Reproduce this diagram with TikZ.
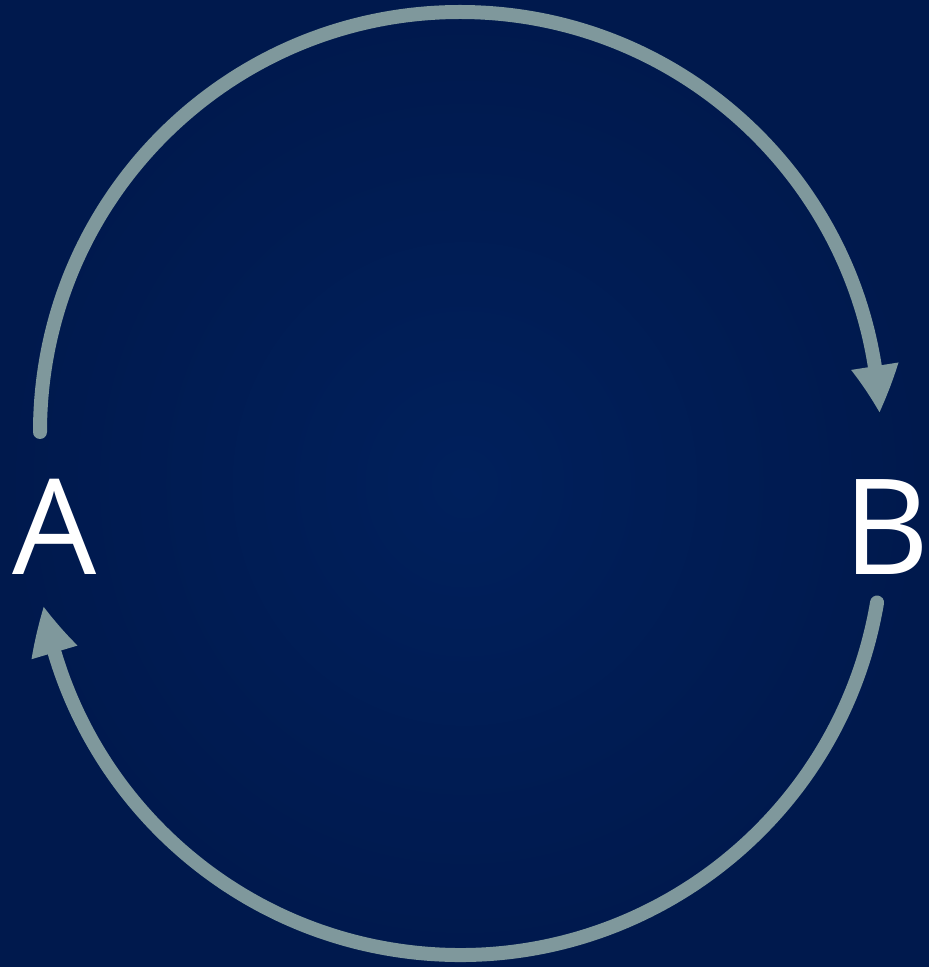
\documentclass[tikz,border=0pt]{standalone}
\usepackage{fontspec}
\setmainfont{Open Sans}
\usetikzlibrary{arrows.meta,bending}
\definecolor{bginner}{RGB}{0,32,92}
\definecolor{bgouter}{RGB}{0,25,77}
\definecolor{arccol}{RGB}{127,152,156}
\tikzset{
  loop/.style={draw=arccol, line width=14pt, line cap=round,
    -{Triangle[length=47pt,width=48pt,line width=0pt,bend]}},
  lbl/.style={text=white, inner sep=0pt, anchor=base west,
    font=\fontsize{133}{133}\selectfont}
}
\begin{document}
\begin{tikzpicture}[x=1pt,y=1pt]
  \useasboundingbox (0,0) rectangle (929,967);
  \shade[inner color=bginner, outer color=bgouter] (0,0) rectangle (929,967);
  \node[lbl] (A) at (12,392) {A};
  \node[lbl] (B) at (843,392) {B};
  \coordinate (ctop) at (460,535);
  \coordinate (cbot) at (460,435);
  \draw[loop] ([shift={(180:420)}]ctop) arc[start angle=180, end angle=2.7, radius=420];
  \draw[loop] ([shift={(-9.6:423)}]cbot) arc[start angle=-9.6, end angle=-169.8, radius=423];
\end{tikzpicture}
\end{document}
